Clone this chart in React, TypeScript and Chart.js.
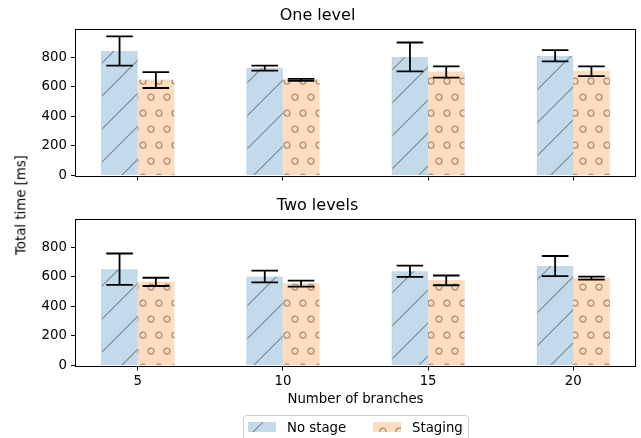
import React, { useEffect, useRef } from 'react';
import { Chart, registerables } from 'chart.js';

Chart.register(...registerables);

// ---------- data ----------
const branches = [5, 10, 15, 20];
const yTicks = [0, 200, 400, 600, 800];
const seriesLabels = ['No stage', 'Staging'];
const panelTitles = ['One level', 'Two levels'];
const xAxisTitle = 'Number of branches';
const yAxisTitle = 'Total time [ms]';

const oneNoStage = [842, 727, 802, 810];
const oneNoStageErr = [99, 17, 98, 38];
const oneStaging = [646, 647, 701, 706];
const oneStagingErr = [54, 7, 38, 33];

const twoNoStage = [652, 602, 638, 673];
const twoNoStageErr = [106, 40, 38, 68];
const twoStaging = [566, 554, 576, 591];
const twoStagingErr = [28, 20, 33, 10];

// ---------- style / layout ----------
const FONT = '"DejaVu Sans", "Liberation Sans", sans-serif';
const TICK_FS = 13.3;
const TITLE_FS = 16;
const W = 641;
const TOP_H = 190;
const BOT_H = 248;
const PLOT_LEFT = 76;
const PLOT_RIGHT = 635;
const PLOT_TOP = 29.5;
const PLOT_BOTTOM = 175.5;
const BAR_W = 1.25;
const BLUE_FILL = 'rgb(195,218,235)';
const ORANGE_FILL = 'rgb(255,220,190)';

const xLo = branches[0] - BAR_W;
const xHi = branches[branches.length - 1] + BAR_W;
const xMin = xLo - 0.05 * (xHi - xLo);
const xMax = xHi + 0.05 * (xHi - xLo);
const allTops = [
  ...oneNoStage.map((v, i) => v + oneNoStageErr[i]),
  ...oneStaging.map((v, i) => v + oneStagingErr[i]),
  ...twoNoStage.map((v, i) => v + twoNoStageErr[i]),
  ...twoStaging.map((v, i) => v + twoStagingErr[i]),
];
const yMax = Math.max(...allTops) * 1.05;
const BAR_PX = (BAR_W * (PLOT_RIGHT - PLOT_LEFT)) / (xMax - xMin);

function makeBluePattern(ctx: CanvasRenderingContext2D) {
  const s = 33;
  const c = document.createElement('canvas');
  c.width = s;
  c.height = s;
  const g = c.getContext('2d')!;
  g.fillStyle = BLUE_FILL;
  g.fillRect(0, 0, s, s);
  g.strokeStyle = 'rgba(0,0,0,0.38)';
  g.lineWidth = 1.1;
  for (const k of [0, s, 2 * s]) {
    g.beginPath();
    g.moveTo(k + 2, -2);
    g.lineTo(k - s - 2, s + 2);
    g.stroke();
  }
  return ctx.createPattern(c, 'repeat')!;
}

function makeOrangePattern(ctx: CanvasRenderingContext2D) {
  const w = 16;
  const h = 32;
  const c = document.createElement('canvas');
  c.width = w;
  c.height = h;
  const g = c.getContext('2d')!;
  g.fillStyle = ORANGE_FILL;
  g.fillRect(0, 0, w, h);
  g.strokeStyle = 'rgba(0,0,0,0.36)';
  g.lineWidth = 1.25;
  const centers = [
    [7, 1],
    [15, 17],
  ];
  for (const [cx, cy] of centers) {
    for (const dx of [-w, 0, w]) {
      for (const dy of [-h, 0, h]) {
        g.beginPath();
        g.arc(cx + dx, cy + dy, 3.0, 0, Math.PI * 2);
        g.stroke();
      }
    }
  }
  return ctx.createPattern(c, 'repeat')!;
}

function buildConfig(
  canvas: HTMLCanvasElement,
  title: string,
  noStage: number[],
  noErr: number[],
  staging: number[],
  stgErr: number[],
  bottom: boolean
): any {
  const ctx = canvas.getContext('2d')!;
  const blue = makeBluePattern(ctx);
  const orange = makeOrangePattern(ctx);
  const errs = [noErr, stgErr];

  const errorPlugin = {
    id: 'errorBars',
    afterDatasetsDraw(chart: any) {
      const c = chart.ctx;
      const ys = chart.scales.y;
      c.save();
      c.strokeStyle = '#000';
      c.lineWidth = 1.8;
      chart.data.datasets.forEach((ds: any, di: number) => {
        const meta = chart.getDatasetMeta(di);
        meta.data.forEach((bar: any, i: number) => {
          const v = ds.data[i].y;
          const e = errs[di][i];
          const yt = ys.getPixelForValue(v + e);
          const yb = ys.getPixelForValue(v - e);
          const x = bar.x;
          const half = 13.3;
          c.beginPath();
          c.moveTo(x, yt);
          c.lineTo(x, yb);
          c.moveTo(x - half, yt);
          c.lineTo(x + half, yt);
          c.moveTo(x - half, yb);
          c.lineTo(x + half, yb);
          c.stroke();
        });
      });
      c.restore();
    },
  };

  const framePlugin = {
    id: 'frame',
    afterDatasetsDraw(chart: any) {
      const { left, right, top, bottom: b } = chart.chartArea;
      const c = chart.ctx;
      c.save();
      c.strokeStyle = '#000';
      c.lineWidth = 1;
      c.strokeRect(
        Math.round(left) - 0.5,
        Math.round(top - 0.5) + 0.5,
        Math.round(right) - Math.round(left) + 1,
        Math.round(b) - Math.round(top - 0.5)
      );
      c.restore();
    },
  };

  const legendPlugin = {
    id: 'legendBox',
    afterDraw(chart: any) {
      const c = chart.ctx;
      c.save();
      const x0 = 243.5, y0 = 225.5, w = 225, h = 34, r = 3;
      c.beginPath();
      c.moveTo(x0 + r, y0);
      c.lineTo(x0 + w - r, y0);
      c.quadraticCurveTo(x0 + w, y0, x0 + w, y0 + r);
      c.lineTo(x0 + w, y0 + h);
      c.lineTo(x0, y0 + h);
      c.lineTo(x0, y0 + r);
      c.quadraticCurveTo(x0, y0, x0 + r, y0);
      c.closePath();
      c.fillStyle = 'rgba(255,255,255,0.8)';
      c.fill();
      c.strokeStyle = '#cccccc';
      c.lineWidth = 1;
      c.stroke();
      c.fillStyle = blue;
      c.fillRect(248, 232, 28, 10);
      c.fillStyle = orange;
      c.fillRect(373, 232, 28, 10);
      c.fillStyle = '#000';
      c.font = `${TICK_FS}px ${FONT}`;
      c.textBaseline = 'alphabetic';
      c.textAlign = 'left';
      c.fillText(seriesLabels[0], 287, 242);
      c.fillText(seriesLabels[1], 412, 242);
      c.restore();
    },
  };

  const tickFont = { family: FONT, size: TICK_FS };
  const plugins: any[] = [errorPlugin, framePlugin];
  if (bottom) plugins.push(legendPlugin);

  return {
    type: 'bar',
    data: {
      datasets: [
        {
          label: seriesLabels[0],
          data: branches.map((b, i) => ({ x: b, y: noStage[i] })),
          backgroundColor: blue,
          borderColor: 'rgba(31,119,180,0.35)',
          borderWidth: { left: 1, top: 0, right: 0, bottom: 0 },
          borderSkipped: false,
          barThickness: BAR_PX,
        },
        {
          label: seriesLabels[1],
          data: branches.map((b, i) => ({ x: b, y: staging[i] })),
          backgroundColor: orange,
          borderWidth: 0,
          barThickness: BAR_PX,
        },
      ],
    },
    options: {
      animation: false,
      responsive: false,
      devicePixelRatio: 1,
      events: [],
      layout: { padding: { left: 0, right: W - PLOT_RIGHT, top: 0, bottom: 0 } },
      plugins: {
        legend: { display: false },
        tooltip: { enabled: false },
        title: {
          display: true,
          text: title,
          color: '#000',
          font: { family: FONT, size: TITLE_FS, weight: 'normal' },
          padding: { top: 6.4, bottom: PLOT_TOP - 6.4 - TITLE_FS * 1.2 },
        },
      },
      scales: {
        x: {
          type: 'linear',
          min: xMin,
          max: xMax,
          offset: false,
          afterBuildTicks: (s: any) => {
            s.ticks = branches.map((v) => ({ value: v }));
          },
          afterFit: (s: any) => {
            s.height = (bottom ? BOT_H : TOP_H) - PLOT_BOTTOM;
          },
          grid: {
            display: true,
            offset: false,
            drawOnChartArea: false,
            drawTicks: true,
            tickLength: 5,
            tickColor: '#000',
            tickWidth: 1,
          },
          border: { display: false },
          ticks: {
            display: bottom,
            color: '#000',
            font: tickFont,
            padding: 3,
            maxRotation: 0,
            autoSkip: false,
            callback: (v: any) => String(v),
          },
          title: {
            display: bottom,
            text: xAxisTitle,
            color: '#000',
            font: tickFont,
            padding: { top: 4, bottom: 30 },
          },
        },
        y: {
          type: 'linear',
          min: 0,
          max: yMax,
          afterBuildTicks: (s: any) => {
            s.ticks = yTicks.map((v) => ({ value: v }));
          },
          afterFit: (s: any) => {
            s.width = PLOT_LEFT;
          },
          grid: {
            display: true,
            drawOnChartArea: false,
            drawTicks: true,
            tickLength: 5,
            tickColor: '#000',
            tickWidth: 1,
          },
          border: { display: false },
          ticks: {
            color: '#000',
            font: tickFont,
            padding: 4,
            callback: (v: any) => String(v),
          },
        },
      },
    },
    plugins,
  };
}

export default function App() {
  const topRef = useRef<HTMLCanvasElement>(null);
  const botRef = useRef<HTMLCanvasElement>(null);

  useEffect(() => {
    const charts: Chart[] = [];
    if (topRef.current) {
      charts.push(
        new Chart(
          topRef.current,
          buildConfig(topRef.current, panelTitles[0], oneNoStage, oneNoStageErr, oneStaging, oneStagingErr, false)
        )
      );
    }
    if (botRef.current) {
      charts.push(
        new Chart(
          botRef.current,
          buildConfig(botRef.current, panelTitles[1], twoNoStage, twoNoStageErr, twoStaging, twoStagingErr, true)
        )
      );
    }
    return () => charts.forEach((c) => c.destroy());
  }, []);

  return (
    <div
      style={{
        position: 'fixed',
        left: 0,
        top: 0,
        width: W,
        height: 438,
        overflow: 'hidden',
        background: '#fff',
      }}
    >
      <canvas
        ref={topRef}
        width={W}
        height={TOP_H}
        style={{ position: 'absolute', left: 0, top: 0, width: W, height: TOP_H }}
      />
      <canvas
        ref={botRef}
        width={W}
        height={BOT_H}
        style={{ position: 'absolute', left: 0, top: TOP_H, width: W, height: BOT_H }}
      />
      <div
        style={{
          position: 'absolute',
          left: 21,
          top: 205,
          transform: 'translate(-50%, -50%) rotate(-90deg)',
          fontFamily: FONT,
          fontSize: TICK_FS,
          lineHeight: 1,
          whiteSpace: 'nowrap',
          color: '#000',
        }}
      >
        {yAxisTitle}
      </div>
    </div>
  );
}
